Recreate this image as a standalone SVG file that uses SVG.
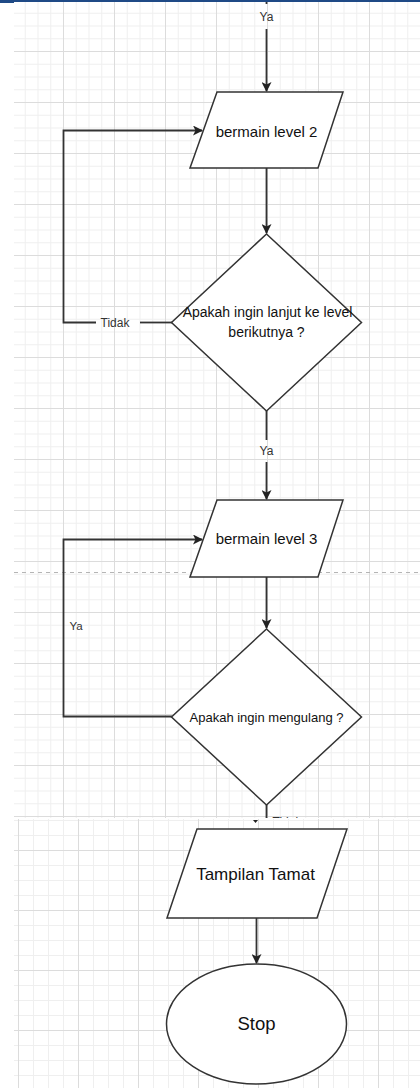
<svg xmlns="http://www.w3.org/2000/svg" width="420" height="1088" viewBox="0 0 420 1088">
<style>
.node{fill:#fff;stroke:#333;stroke-width:1.5}
.conn{fill:none;stroke:#333;stroke-width:1.8}
.t{font-family:"Liberation Sans",Arial,sans-serif;fill:#111;text-anchor:middle}
.lbl{font-family:"Liberation Sans",Arial,sans-serif;fill:#333;font-size:12px;text-anchor:middle}
</style>
<defs>
<pattern id="gU" patternUnits="userSpaceOnUse" x="12" y="0" width="51" height="51">
<path d="M13.25 0V51M26 0V51M38.75 0V51M0 13.25H51M0 26H51M0 38.75H51" stroke="#efefef" stroke-width="1" fill="none"/>
<path d="M0.5 0V51M0 0.5H51" stroke="#dcdcdc" stroke-width="1" fill="none"/>
</pattern>
<pattern id="gL" patternUnits="userSpaceOnUse" x="18" y="850" width="60" height="60">
<path d="M15.5 0V60M30.5 0V60M45.5 0V60M0 15.5H60M0 30.5H60M0 45.5H60" stroke="#efefef" stroke-width="1" fill="none"/>
<path d="M0.5 0V60M0 0.5H60" stroke="#dcdcdc" stroke-width="1" fill="none"/>
</pattern>
<marker id="ah" markerWidth="10" markerHeight="10" refX="9" refY="5" orient="auto" markerUnits="userSpaceOnUse">
<path d="M0,0 L10,5 L0,10 L2.5,5z" fill="#222"/>
</marker>
<clipPath id="upper"><rect x="0" y="0" width="420" height="818"/></clipPath>
</defs>
<rect width="420" height="1088" fill="#fff"/>
<rect x="14" y="2" width="406" height="816" fill="url(#gU)"/>
<rect x="14" y="819" width="406" height="269" fill="url(#gL)"/>
<rect x="0" y="0" width="420" height="2" fill="#1f4a86"/>
<rect x="0" y="0" width="14" height="3" fill="#1f4a86"/>
<line x1="14" y1="572.5" x2="420" y2="572.5" stroke="#b5b5b5" stroke-width="1" stroke-dasharray="4,4"/>

<g id="connectors">
<path class="conn" d="M266.5 2V4"/>
<path class="conn" d="M266.5 29V91" marker-end="url(#ah)"/>
<path class="conn" d="M266.5 168V233" marker-end="url(#ah)"/>
<path class="conn" d="M266.5 411V440"/>
<path class="conn" d="M266.5 462V499" marker-end="url(#ah)"/>
<path class="conn" d="M266.5 577V628" marker-end="url(#ah)"/>
<path class="conn" d="M266.5 805V818"/>
<path class="conn" d="M256.5 918V963" marker-end="url(#ah)"/>
<path class="conn" d="M172 322.5H140"/>
<path class="conn" d="M96 322.5H63.5V130.5H202" marker-end="url(#ah)"/>
<path class="conn" d="M172 716.5H63.5V539.5H202" marker-end="url(#ah)"/>
<polygon points="253,820 258,820 255.5,823" fill="#222"/>
<text class="lbl" x="266.5" y="21">Ya</text>
<text class="lbl" x="115" y="327">Tidak</text>
<text class="lbl" x="266.5" y="455">Ya</text>
<text class="lbl" x="76" y="630" style="font-size:11.5px">Ya</text>
<text class="lbl" x="287" y="826" clip-path="url(#upper)">Tidak</text>
</g>

<g id="p1">
<polygon class="node" points="217,92 343,92 318,168 190,168"/>
<text class="t" x="266.5" y="137" font-size="15">bermain level 2</text>
</g>
<g id="d1">
<polygon class="node" points="266.5,234 361.5,322.5 266.5,411 171.5,322.5"/>
<text class="t" x="267.5" y="317" font-size="14">Apakah ingin lanjut ke level</text>
<text class="t" x="266.5" y="337" font-size="14">berikutnya ?</text>
</g>
<g id="p2">
<polygon class="node" points="217,500 343,500 318,577 190,577"/>
<text class="t" x="266.5" y="544" font-size="15">bermain level 3</text>
</g>
<g id="d2">
<polygon class="node" points="266.5,629 361.5,717 266.5,805 171.5,717"/>
<text class="t" x="266.5" y="722" font-size="13">Apakah ingin mengulang ?</text>
</g>
<g id="p3">
<polygon class="node" points="197,829 347,829 317,918 167,918"/>
<text class="t" x="255.5" y="880" font-size="17">Tampilan Tamat</text>
</g>
<g id="stop">
<ellipse class="node" cx="256.5" cy="1024" rx="90" ry="60"/>
<text class="t" x="256.5" y="1030" font-size="18.5">Stop</text>
</g>
</svg>
